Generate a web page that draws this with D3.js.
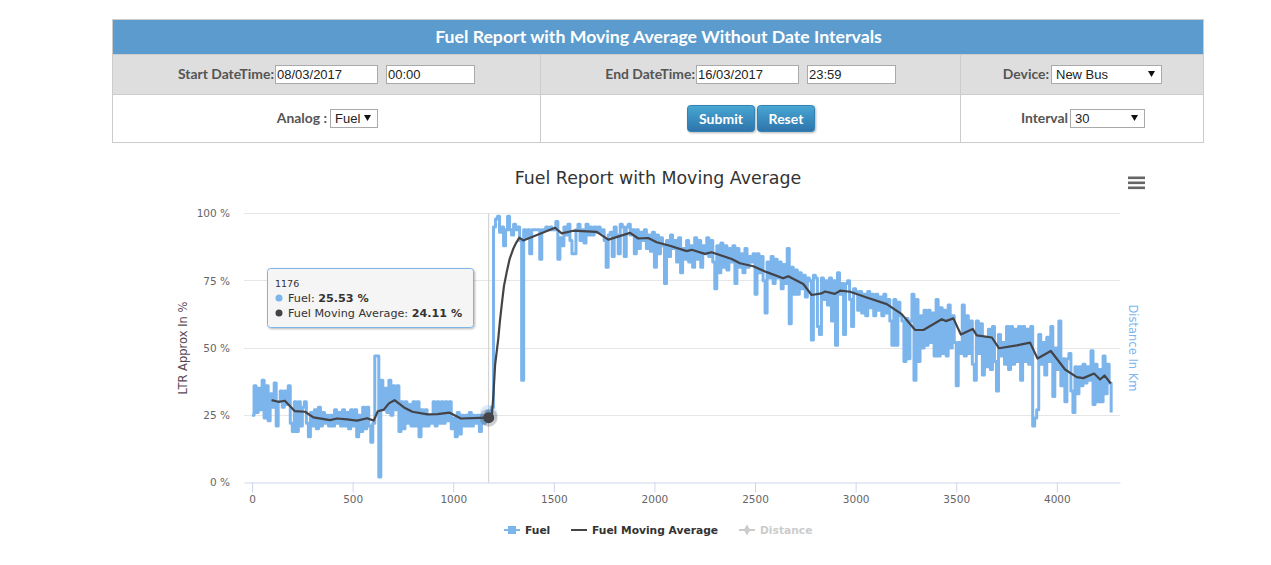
<!DOCTYPE html>
<html>
<head>
<meta charset="utf-8">
<title>Fuel Report with Moving Average</title>
<script src="https://cdn.jsdelivr.net/npm/d3@7/dist/d3.min.js"></script>
<style>
html, body { margin: 0; padding: 0; background: #fff; }
svg { display: block; }
</style>
</head>
<body>
<script>
var w = 1271;
var h = 565;

var chartTitle = "Fuel Report with Moving Average";
var formTitle = "Fuel Report with Moving Average Without Date Intervals";
var xTicks = [0, 500, 1000, 1500, 2000, 2500, 3000, 3500, 4000];
var yTicks = [0, 25, 50, 75, 100];

// one fuel reading every 10 samples (ten per row)
var fuelStep = 10;
var fuelValues = [
	25,36,26,35,27,38,24,36,23,33,
	28,37,21,30,34,28,34,29,36,22,
	19,30,19,30,21,28,30,22,17,26,
	21,27,20,28,21,26,22,25,21,25,
	21,27,22,26,21,27,21,26,20,27,
	21,27,17,25,19,28,20,28,21,15,
	22,47,47,2,38,27,35,26,38,25,
	36,27,36,19,30,20,30,22,29,21,
	30,21,30,17,27,21,27,21,25,22,
	30,21,30,22,30,22,30,23,30,20,
	24,17,26,18,25,21,25,21,26,21,
	25,22,25,19,25,22,25,25,25,28,
	95,98,99,93,95,88,94,99,94,92,
	96,94,95,90,38,94,91,94,85,94,
	94,94,94,83,94,94,95,94,95,94,
	94,97,83,91,88,95,92,96,90,85,
	85,94,96,90,94,89,96,92,95,92,
	95,93,95,93,94,90,80,92,93,84,
	95,92,85,96,95,84,95,96,92,94,
	85,94,87,93,90,94,87,92,86,93,
	80,92,85,91,88,74,90,84,92,87,
	90,82,91,78,87,83,90,82,88,80,
	91,83,90,80,88,85,91,84,90,82,
	72,88,78,89,80,88,79,87,82,88,
	74,87,80,85,78,87,80,84,82,85,
	70,85,78,84,75,63,82,76,84,74,
	83,76,82,72,81,74,87,59,80,70,
	79,70,78,72,77,69,76,75,53,77,
	76,58,55,76,68,75,66,76,60,75,
	51,78,70,74,55,74,75,68,58,72,
	71,64,71,63,70,62,71,65,70,62,
	70,64,69,62,70,63,68,60,51,68,
	51,67,62,60,45,61,46,60,70,38,
	68,45,62,50,64,51,64,52,63,47,
	68,47,65,48,64,47,66,50,62,52,
	36,52,48,66,47,62,48,60,44,38,
	60,48,59,40,54,43,57,42,58,45,
	34,55,47,52,44,58,42,58,44,57,
	45,58,38,58,45,57,44,58,21,24,
	27,55,44,52,40,54,45,58,32,50,
	42,60,36,46,30,46,48,34,26,43,
	33,43,36,44,37,43,38,49,29,44,
	30,42,30,47,33,44,37,26
];

var avgX = [97,130,163,213,263,305,388,422,472,522,572,605,625,655,680,708,755,797,872,922,980,1038,1138,1176,1192,
	1200,1208,1215,1224,1232,1241,1252,1266,1280,1299,1312,1328,1348,1506,1539,1597,1713,1771,1879,1920,1969,2011,2077,2160,2185,2251,2284,2384,2425,2491,2558,2640,2665,2740,
	2781,2831,2848,2897,2923,2973,3055,3155,3229,3296,3337,3428,3448,3486,3523,3582,3602,3677,3713,3801,3867,3904,3970,4041,4099,4132,4185,4215,4237,4268];
var avgValues = [30.6,30,30.4,26.5,26.3,24.2,23.2,23.8,23.5,23,23.9,23,26.5,27.1,29.4,30.6,27.9,26.3,25.3,25.4,26,23.8,24,24.11,25,
	33,43.7,48,53.6,60,66,73,78.3,83,87,89,91,90,94.7,92.6,93.6,93.2,90.3,92.8,90.7,90.9,89.3,88,86,86.5,85,85.6,83.1,81.5,80.4,78.2,75.9,76.7,73.8,
	69.7,70.3,71,70.1,71.3,70.9,68.8,66.3,62.6,56.7,56.7,60.7,60,61,55,57.1,54.7,53.9,49.9,51,52,46.1,48.9,42,39.2,38.8,40.5,38.3,39.8,36.8];

var hoverX = 1176;
var hoverFuel = 25.53;
var hoverAvg = 24.11;

var blue = "#7cb5ec";
var dark = "#434348";
var labelFont = "Lato, 'Open Sans', sans-serif";
var chartFont = "'DejaVu Sans', Verdana, sans-serif";
var inputFont = "'Liberation Sans', Arial, sans-serif";

var svg = d3.select("body")
	.append("svg")
	.attr("width", w)
	.attr("height", h);

var defs = svg.append("defs");
var btn = defs.append("linearGradient").attr("id", "btn").attr("x1", 0).attr("x2", 0).attr("y1", 0).attr("y2", 1);
btn.append("stop").attr("offset", "0%").attr("stop-color", "#49a7d3");
btn.append("stop").attr("offset", "100%").attr("stop-color", "#2d74ab");
var shadow = defs.append("filter").attr("id", "shadow").attr("x", "-10%").attr("y", "-10%").attr("width", "125%").attr("height", "130%");
shadow.append("feDropShadow").attr("dx", 1).attr("dy", 1).attr("stdDeviation", 1.2).attr("flood-color", "#000").attr("flood-opacity", 0.3);

drawForm();
drawChart();

function label(x, y, txt, anchor) {
	svg.append("text")
		.attr("x", x)
		.attr("y", y)
		.attr("text-anchor", anchor || "end")
		.attr("font-family", labelFont)
		.attr("font-weight", 700)
		.attr("font-size", 13.9)
		.attr("fill", "#555")
		.text(txt);
}

function inputBox(x, y, bw, bh, txt, isSelect) {
	svg.append("rect")
		.attr("x", x + 0.5).attr("y", y + 0.5)
		.attr("width", bw).attr("height", bh)
		.attr("fill", "#fff")
		.attr("stroke", "#aaa");
	svg.append("text")
		.attr("x", x + (isSelect ? 5 : 2))
		.attr("y", y + bh / 2 + 5)
		.attr("font-family", inputFont)
		.attr("font-size", 13)
		.attr("fill", "#222")
		.text(txt);
	if (isSelect) {
		var ax = x + bw - 13;
		var ay = y + bh / 2 - 3;
		svg.append("path")
			.attr("d", "M" + ax + "," + ay + "h7l-3.5,6z")
			.attr("fill", "#111");
	}
}

function button(x, y, bw, bh, txt) {
	svg.append("rect")
		.attr("x", x).attr("y", y)
		.attr("width", bw).attr("height", bh)
		.attr("rx", 3)
		.attr("fill", "url(#btn)")
		.attr("stroke", "#3182b3")
		.attr("filter", "url(#shadow)");
	svg.append("text")
		.attr("x", x + bw / 2)
		.attr("y", y + bh / 2 + 5)
		.attr("text-anchor", "middle")
		.attr("font-family", labelFont)
		.attr("font-weight", 700)
		.attr("font-size", 14)
		.attr("fill", "#fff")
		.text(txt);
}

function drawForm() {
	svg.append("rect").attr("x", 112.5).attr("y", 19.5).attr("width", 1091).attr("height", 123)
		.attr("fill", "#fff").attr("stroke", "#ccc");
	svg.append("rect").attr("x", 113).attr("y", 20).attr("width", 1090).attr("height", 34).attr("fill", "#5b9bcd");
	svg.append("rect").attr("x", 113).attr("y", 55).attr("width", 1090).attr("height", 39).attr("fill", "#dedede");
	svg.append("line").attr("x1", 113).attr("x2", 1203).attr("y1", 94.5).attr("y2", 94.5).attr("stroke", "#ccc");
	svg.append("line").attr("x1", 113).attr("x2", 1203).attr("y1", 54.5).attr("y2", 54.5).attr("stroke", "#ccc");
	svg.selectAll(".sep")
		.data([540.5, 960.5])
		.enter()
		.append("line")
		.attr("class", "sep")
		.attr("x1", function(d){ return d; })
		.attr("x2", function(d){ return d; })
		.attr("y1", 55)
		.attr("y2", 142)
		.attr("stroke", "#ccc");

	svg.append("text")
		.attr("x", 658.5)
		.attr("y", 43)
		.attr("text-anchor", "middle")
		.attr("font-family", labelFont)
		.attr("font-weight", 700)
		.attr("font-size", 17.7)
		.attr("fill", "#fff")
		.text(formTitle);

	label(274, 79, "Start DateTime:");
	inputBox(275, 65, 102, 18, "08/03/2017");
	inputBox(386, 65, 88, 18, "00:00");
	label(695, 79, "End DateTime:");
	inputBox(696, 65, 102, 18, "16/03/2017");
	inputBox(807, 65, 88, 18, "23:59");
	label(1049, 79, "Device:");
	inputBox(1051, 65, 110, 18, "New Bus", true);

	label(327, 123, "Analog :");
	inputBox(330, 109, 47, 18, "Fuel", true);
	button(687.5, 105.5, 67, 26, "Submit");
	button(757.5, 105.5, 57, 26, "Reset");
	label(1068, 123, "Interval");
	inputBox(1070, 109, 74, 18, "30", true);
}

function drawChart() {
	var x = d3.scaleLinear().domain([-40, 4314]).range([244, 1120]);
	var y = d3.scaleLinear().domain([0, 100]).range([482.5, 213.5]);

	svg.append("text")
		.attr("x", 658)
		.attr("y", 184)
		.attr("text-anchor", "middle")
		.attr("font-family", chartFont)
		.attr("font-size", 17.4)
		.attr("fill", "#333")
		.text(chartTitle);

	// export menu icon
	svg.selectAll(".menu")
		.data([0, 5, 10])
		.enter()
		.append("rect")
		.attr("class", "menu")
		.attr("x", 1128)
		.attr("y", function(d){ return 176.5 + d; })
		.attr("width", 17)
		.attr("height", 2.6)
		.attr("fill", "#666");

	var yAxis = d3.axisLeft(y)
		.tickValues(yTicks)
		.tickSize(0)
		.tickPadding(14)
		.tickFormat(function(d){ return d + " %"; });
	var gy = svg.append("g").attr("transform", "translate(244,0)").call(yAxis);
	gy.select(".domain").remove();
	gy.selectAll("text").attr("font-family", chartFont).attr("font-size", 10.5).attr("fill", "#666");

	svg.append("g").selectAll("line")
		.data(yTicks.filter(function(d){ return d > 0; }))
		.enter()
		.append("line")
		.attr("x1", x.range()[0])
		.attr("x2", x.range()[1])
		.attr("y1", function(d){ return Math.floor(y(d)) + 0.5; })
		.attr("y2", function(d){ return Math.floor(y(d)) + 0.5; })
		.attr("stroke", "#e6e6e6");

	var xAxis = d3.axisBottom(x)
		.tickValues(xTicks)
		.tickSize(10)
		.tickSizeOuter(0)
		.tickPadding(3)
		.tickFormat(function(d){ return d; });
	var gx = svg.append("g").attr("transform", "translate(0,482.5)").call(xAxis);
	gx.select(".domain").attr("stroke", "#ccd6eb");
	gx.selectAll("line").attr("stroke", "#ccd6eb");
	gx.selectAll("text").attr("font-family", chartFont).attr("font-size", 10.5).attr("fill", "#666");

	svg.append("text")
		.attr("transform", "translate(187,348) rotate(-90)")
		.attr("text-anchor", "middle")
		.attr("font-family", chartFont)
		.attr("font-size", 11.5)
		.attr("fill", "#5b4a55")
		.text("LTR Approx In %");
	svg.append("text")
		.attr("transform", "translate(1129,348) rotate(90)")
		.attr("text-anchor", "middle")
		.attr("font-family", chartFont)
		.attr("font-size", 11.5)
		.attr("fill", blue)
		.text("Distance In Km");

	// crosshair
	svg.append("line")
		.attr("x1", x(hoverX)).attr("x2", x(hoverX))
		.attr("y1", y(100)).attr("y2", y(0))
		.attr("stroke", "#ccc");

	var line = d3.line()
		.x(function(d){ return x(d[0]); })
		.y(function(d){ return y(d[1]); });

	// fuel is quantised so it is drawn in steps, the thick stroke closes the band
	svg.append("path")
		.datum(fuelValues.map(function(v, i){ return [i * fuelStep, v]; }))
		.attr("d", line.curve(d3.curveStepAfter))
		.attr("fill", "none")
		.attr("stroke", blue)
		.attr("stroke-width", 3)
		.attr("stroke-linejoin", "round");

	svg.append("circle").attr("cx", x(hoverX)).attr("cy", y(hoverFuel)).attr("r", 9).attr("fill", blue).attr("opacity", 0.25);
	svg.append("circle").attr("cx", x(hoverX)).attr("cy", y(hoverFuel)).attr("r", 4).attr("fill", blue);

	svg.append("path")
		.datum(avgX.map(function(v, i){ return [v, avgValues[i]]; }))
		.attr("d", line.curve(d3.curveLinear))
		.attr("fill", "none")
		.attr("stroke", dark)
		.attr("stroke-width", 2.2)
		.attr("stroke-linejoin", "round");

	svg.append("circle").attr("cx", x(hoverX)).attr("cy", y(hoverAvg)).attr("r", 9).attr("fill", dark).attr("opacity", 0.25);
	svg.append("circle").attr("cx", x(hoverX)).attr("cy", y(hoverAvg)).attr("r", 5.5).attr("fill", dark);

	drawTooltip();
	drawLegend();
}

function drawTooltip() {
	var g = svg.append("g").attr("transform", "translate(267,268)");
	g.append("rect")
		.attr("x", 0.5).attr("y", 0.5)
		.attr("width", 206).attr("height", 59)
		.attr("rx", 3)
		.attr("fill", "#f7f7f7")
		.attr("fill-opacity", 0.95)
		.attr("stroke", blue)
		.attr("filter", "url(#shadow)");
	g.append("text")
		.attr("x", 8).attr("y", 19)
		.attr("font-family", chartFont)
		.attr("font-size", 9.5)
		.attr("fill", "#333")
		.text(hoverX);
	var rows = [
		{ name: "Fuel: ", value: hoverFuel, color: blue, y: 34 },
		{ name: "Fuel Moving Average: ", value: hoverAvg, color: dark, y: 49 }
	];
	rows.forEach(function(r){
		g.append("circle").attr("cx", 12).attr("cy", r.y - 4).attr("r", 3.5).attr("fill", r.color);
		var t = g.append("text")
			.attr("x", 21).attr("y", r.y)
			.attr("font-family", chartFont)
			.attr("font-size", 11.2)
			.attr("fill", "#333");
		t.append("tspan").text(r.name);
		t.append("tspan").attr("font-weight", 700).text(r.value + " %");
	});
}

function drawLegend() {
	var items = [
		{ name: "Fuel", x: 504, color: blue, text: "#333", marker: "square" },
		{ name: "Fuel Moving Average", x: 571, color: dark, text: "#333", marker: null },
		{ name: "Distance", x: 739, color: "#ccc", text: "#ccc", marker: "diamond" }
	];
	items.forEach(function(it){
		svg.append("line")
			.attr("x1", it.x).attr("x2", it.x + 16)
			.attr("y1", 530).attr("y2", 530)
			.attr("stroke", it.color)
			.attr("stroke-width", 2);
		if (it.marker == "square") {
			svg.append("rect").attr("x", it.x + 4).attr("y", 526).attr("width", 8).attr("height", 8).attr("fill", it.color);
		}
		if (it.marker == "diamond") {
			svg.append("path")
				.attr("d", d3.symbol().type(d3.symbolDiamond).size(36)())
				.attr("transform", "translate(" + (it.x + 8) + ",530)")
				.attr("fill", it.color);
		}
		svg.append("text")
			.attr("x", it.x + 21)
			.attr("y", 534)
			.attr("font-family", chartFont)
			.attr("font-weight", 700)
			.attr("font-size", 10.7)
			.attr("fill", it.text)
			.text(it.name);
	});
}
</script>
</body>
</html>
